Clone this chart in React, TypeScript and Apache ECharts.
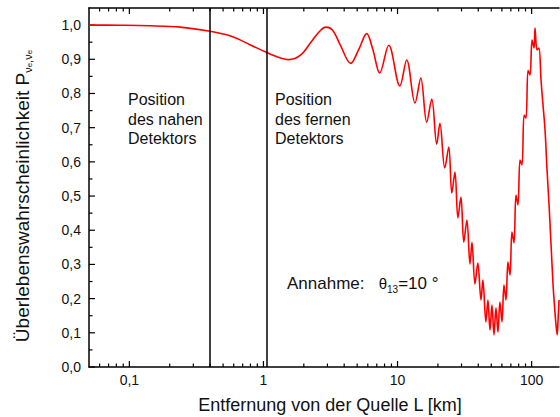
import React, { useEffect, useRef } from "react";
import * as echarts from "echarts";

// Distance from the source L [km]
const distanceKm = [
  0.05, 0.085, 0.143, 0.24, 0.4, 0.57, 0.8, 1.03, 1.29, 1.54, 1.89, 2.32, 2.67, 2.92, 3.28, 3.76,
  4.47, 5.13, 5.89, 6.53, 7.36, 8.6, 10.4, 11.7, 13.5, 14.9, 16.5, 18.0, 19.6, 20.7, 22.5, 24.1,
  25.4, 26.8, 28.2, 29.7, 31.2, 32.9, 34.7, 35.9, 37.8, 39.7, 41.9, 43.3, 45.6, 47.2, 48.9, 50.6,
  52.4, 54.2, 56.1, 58.0, 60.1, 62.2, 64.4, 66.6, 69.0, 71.3, 73.9, 76.4, 79.1, 81.9, 84.8, 87.8,
  90.8, 94.0, 97.3, 100.7, 104.2, 106, 109.7, 113.5, 117.5, 121.6, 125.9, 130.3, 134.9, 139.6,
  144.5, 147, 152, 155, 157.4, 160,
];
// Survival probability P(nu_e -> nu_e)
const survivalProb = [
  1.0, 0.9995, 0.998, 0.994, 0.982, 0.968, 0.942, 0.922, 0.906, 0.899, 0.912, 0.956, 0.985, 0.994,
  0.985, 0.94, 0.888, 0.928, 0.975, 0.93, 0.86, 0.941, 0.822, 0.898, 0.772, 0.845, 0.716, 0.784,
  0.652, 0.713, 0.582, 0.643, 0.509, 0.57, 0.436, 0.497, 0.365, 0.43, 0.301, 0.365, 0.243, 0.304,
  0.196, 0.254, 0.132, 0.196, 0.108, 0.181, 0.094, 0.173, 0.102, 0.19, 0.132, 0.24, 0.196, 0.307,
  0.269, 0.395, 0.363, 0.503, 0.474, 0.605, 0.591, 0.737, 0.728, 0.868, 0.854, 0.956, 0.933, 0.991,
  0.927, 0.933, 0.839, 0.766, 0.693, 0.576, 0.474, 0.357, 0.24, 0.196, 0.123, 0.094, 0.137, 0.196,
];

const detectorKm = [0.4, 1.05];
const detectorLabels = ["Position\ndes nahen\nDetektors", "Position\ndes fernen\nDetektors"];
const xMajorTicks = [0.1, 1, 10, 100];
const yMajorTicks = [0, 0.1, 0.2, 0.3, 0.4, 0.5, 0.6, 0.7, 0.8, 0.9, 1.0];
const xMin = 0.05;
const xMax = 160;
const yMin = 0;
const yMax = 1.05;

const FONT = "'Liberation Sans', Arial, sans-serif";

export default function App() {
  const ref = useRef<HTMLDivElement>(null);

  useEffect(() => {
    if (!ref.current) return;
    const chart = echarts.init(ref.current, null, { renderer: "svg" });
    const pairs = distanceKm.map((d, i) => [d, survivalProb[i]]);
    const axisLine = { show: true, lineStyle: { color: "#000", width: 1.5 } };

    chart.setOption({
      animation: false,
      grid: { left: 89, right: 1, top: 8, bottom: 50 },
      xAxis: [
        {
          type: "log",
          logBase: 10,
          min: xMin,
          max: xMax,
          axisLine,
          axisTick: { show: false },
          splitLine: { show: false },
          axisLabel: {
            show: true,
            showMinLabel: false,
            showMaxLabel: false,
            color: "#111",
            fontSize: 14,
            fontFamily: FONT,
            margin: 6,
            formatter: (v: number) => String(v).replace(".", ","),
          },
        },
        {
          type: "log",
          logBase: 10,
          position: "top",
          min: xMin,
          max: xMax,
          axisLine,
          axisTick: { show: false },
          axisLabel: { show: false },
          splitLine: { show: false },
        },
      ],
      yAxis: {
        type: "value",
        min: yMin,
        max: yMax,
        interval: 0.1,
        axisLine,
        axisTick: { show: false },
        splitLine: { show: false },
        axisLabel: {
          showMaxLabel: false,
          color: "#111",
          fontSize: 14,
          fontFamily: FONT,
          margin: 8,
          formatter: (v: number) => v.toFixed(1).replace(".", ","),
        },
      },
      series: [
        {
          type: "line",
          data: pairs,
          symbol: "none",
          showSymbol: false,
          smooth: 0.35,
          lineStyle: { color: "#ff0000", width: 1.6 },
          markLine: {
            silent: true,
            symbol: "none",
            label: { show: false },
            lineStyle: { color: "#000", width: 1.5, type: "solid" },
            data: detectorKm.map((v) => ({ xAxis: v })),
          },
        },
      ],
    });

    // ticks computed through the axes' own scales
    const px = (v: number) => chart.convertToPixel({ xAxisIndex: 0 }, v) as number;
    const py = (v: number) => chart.convertToPixel({ yAxisIndex: 0 }, v) as number;
    const yBottom = py(yMin);
    const yTop = py(yMax);
    const xLeft = px(xMin);
    const tickStyle = { stroke: "#000", lineWidth: 1.2 };
    const elements: any[] = [];
    const addX = (v: number, len: number) => {
      const x = px(v);
      elements.push({ type: "line", silent: true, shape: { x1: x, y1: yBottom, x2: x, y2: yBottom - len }, style: tickStyle });
      elements.push({ type: "line", silent: true, shape: { x1: x, y1: yTop, x2: x, y2: yTop + len }, style: tickStyle });
    };
    xMajorTicks.forEach((v) => addX(v, 6));
    [0.01, 0.1, 1, 10, 100].forEach((dec) => {
      for (let m = 2; m <= 9; m++) {
        const v = m * dec;
        if (v > xMin && v < xMax) addX(v, 3.5);
      }
    });
    yMajorTicks.forEach((v) => {
      const y = py(v);
      elements.push({ type: "line", silent: true, shape: { x1: xLeft, y1: y, x2: xLeft + 6, y2: y }, style: tickStyle });
      if (v < 1) {
        const ym = py(v + 0.05);
        elements.push({ type: "line", silent: true, shape: { x1: xLeft, y1: ym, x2: xLeft + 3.5, y2: ym }, style: tickStyle });
      }
    });

    const textStyle = { fontSize: 16, lineHeight: 19.5, fontFamily: FONT, fill: "#111" };
    elements.push({ type: "text", left: 128, top: 90, silent: true, style: { ...textStyle, text: detectorLabels[0] } });
    elements.push({ type: "text", left: 275, top: 90, silent: true, style: { ...textStyle, text: detectorLabels[1] } });
    elements.push({
      type: "text",
      left: 287,
      top: 273,
      silent: true,
      style: {
        text: "Annahme:   {t|θ}{s|13}=10 °",
        fontSize: 17,
        lineHeight: 21,
        fontFamily: FONT,
        fill: "#111",
        rich: {
          t: { fontSize: 15, fontFamily: FONT, fill: "#111", lineHeight: 21 },
          s: { fontSize: 10, fontFamily: FONT, fill: "#111", lineHeight: 10, verticalAlign: "bottom" },
        },
      },
    });
    elements.push({
      type: "text",
      x: 22,
      y: 196,
      rotation: Math.PI / 2,
      silent: true,
      style: {
        text: "Überlebenswahrscheinlichkeit P{s|ν}{ss|e}{s|,ν}{ss|e}",
        fontSize: 19,
        fontFamily: FONT,
        fill: "#111",
        align: "center",
        verticalAlign: "middle",
        lineHeight: 22,
        rich: {
          s: { fontSize: 11, fontFamily: FONT, fill: "#111", lineHeight: 11, verticalAlign: "bottom" },
          ss: { fontSize: 8, fontFamily: FONT, fill: "#111", lineHeight: 8, verticalAlign: "bottom" },
        },
      },
    });
    elements.push({
      type: "text",
      x: 330,
      y: 405,
      silent: true,
      style: {
        text: "Entfernung von der Quelle L [km]",
        fontSize: 18,
        fontFamily: FONT,
        fill: "#111",
        align: "center",
        verticalAlign: "middle",
      },
    });

    chart.setOption({ graphic: { elements } });

    return () => chart.dispose();
  }, []);

  return <div ref={ref} style={{ width: 560, height: 417, position: "absolute", left: 0, top: 0 }} />;
}
